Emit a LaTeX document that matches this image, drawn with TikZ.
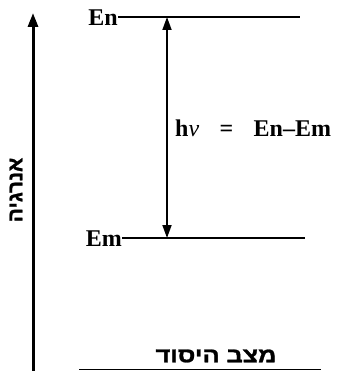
\documentclass[tikz,border=0pt]{standalone}
\usepackage{fontspec}
\setmainfont{Liberation Serif}
\newfontfamily\hebfont[Script=Hebrew,FakeBold=1.2]{Liberation Sans}
\TeXXeTstate=1
\usetikzlibrary{arrows.meta}
\begin{document}
\begin{tikzpicture}[x=1pt,y=-1pt,
  lbl/.style={inner sep=0pt,font=\fontsize{24}{26}\selectfont\bfseries},
  heb/.style={inner sep=0pt,font=\fontsize{21}{23}\selectfont\hebfont\bfseries},
  level/.style={line width=2pt},
  tip/.style={-{Triangle[length=14pt,width=10pt]}},
  dtip/.style={{Triangle[length=13pt,width=9pt]}-{Triangle[length=13pt,width=9pt]}}]
\useasboundingbox (0,0) rectangle (349,371);
% energy axis
\coordinate (axb) at (33,371);
\coordinate (axt) at (33,13);
\draw[line width=3pt,tip] (axb) -- (axt);
\node[heb,rotate=90] (energy) at (16,190) {\beginR אנרגיה\endR};
% levels
\node[lbl,anchor=east] (En) at (118,18) {En};
\node[lbl,anchor=east] (Em) at (122,239) {Em};
\coordinate (Enr) at (300,17);
\coordinate (Emr) at (305,238);
\draw[level] (En.east |- Enr) -- (Enr);
\draw[level] (Em.east |- Emr) -- (Emr);
% transition
\coordinate (tt) at (167,17);
\coordinate (tb) at (167,238);
\draw[line width=1.8pt,dtip] (tb) -- (tt);
\node[lbl,anchor=west] (eq) at (175,128) {h\textit{\textmd{ν}}\hspace{0.85em}=\hspace{0.85em}En–Em};
% ground state
\node[heb,xscale=1.2] (ground) at (216,356) {\beginR מצב היסוד\endR};
\coordinate (gl) at (79,369.5);
\coordinate (gr) at (321,369.5);
\draw[line width=1pt] (gl) -- (gr);
\end{tikzpicture}
\end{document}
